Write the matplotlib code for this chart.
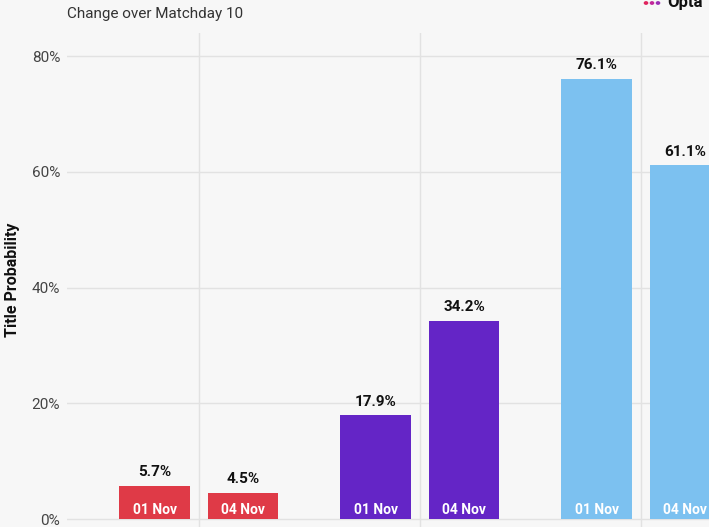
import matplotlib
matplotlib.use("Agg")
import matplotlib.pyplot as plt
import numpy as np

# title probability, two snapshots per club (clubs' names are cut off in the source)
clubs = ["club_a", "club_b", "club_c"]
snapshots = ["01 Nov", "04 Nov"]
prob_01nov = [5.7, 17.9, 76.1]
prob_04nov = [4.5, 34.2, 61.1]
colours = ["#DF3A47", "#6425C6", "#7CC1F0"]
yticks = [0, 20, 40, 60, 80]

BG = "#F7F7F7"
FONT = ["Roboto", "DejaVu Sans"]
plt.rcParams["font.family"] = FONT

fig = plt.figure(figsize=(7.09, 5.27), dpi=100, facecolor=BG)
W, H = 709, 527
ax = fig.add_axes([67 / W, 0, 1 - 67 / W, 1 - 33 / H], facecolor=BG)

x = np.arange(len(clubs))
width, off = 0.32, 0.2
for i, vals in enumerate([prob_01nov, prob_04nov]):
    xs = x + (off if i else -off)
    ax.bar(xs, vals, width, color=colours, zorder=3)
    for xx, v in zip(xs, vals):
        ax.annotate(f"{v:.1f}%", (xx, v), xytext=(0, 5), textcoords="offset points",
                    ha="center", va="bottom", fontsize=11, fontweight="bold",
                    color="#111111", zorder=4)
        ax.annotate(snapshots[i], (xx, 0), xytext=(0, 6.5), textcoords="offset points",
                    ha="center", va="center", fontsize=10, fontweight="bold",
                    color="white", zorder=4)

ax.set_xlim(-0.597, 2.308)
ax.set_ylim(-1.38, 84)
ax.set_xticks(x)
ax.set_xticklabels([])
ax.set_yticks(yticks)
ax.set_yticklabels([f"{t}%" for t in yticks], fontsize=11, color="#444444")
ax.tick_params(length=0, pad=5)
ax.grid(True, color="#E2E2E2", lw=1, zorder=0)
for s in ax.spines.values():
    s.set_visible(False)
ax.set_ylabel("Title Probability", fontsize=11.5, fontweight="bold", color="#111111")
ax.yaxis.set_label_coords(-47 / 642, 0.5)

fig.text(67 / W, 1 - 14 / H, "Change over Matchday 10", fontsize=11,
         color="#333333", ha="left", va="center")

# Opta mark, cut off at the top edge
for cx, cy, c in [(646, 3, "#E0245E"), (652, 3, "#C2279A"), (658, 3, "#9B2FB5"),
                  (652, -3, "#C2279A"), (658, -3, "#9B2FB5")]:
    fig.patches.append(plt.Circle((cx / W, 1 - cy / H), 1.6 / W, color=c,
                                  transform=fig.transFigure, figure=fig))
fig.text(667 / W, 1 - 2 / H, "Opta", fontsize=12, fontweight="bold",
         color="#111111", ha="left", va="center")

fig.savefig("out.png", dpi=100, facecolor=BG)
